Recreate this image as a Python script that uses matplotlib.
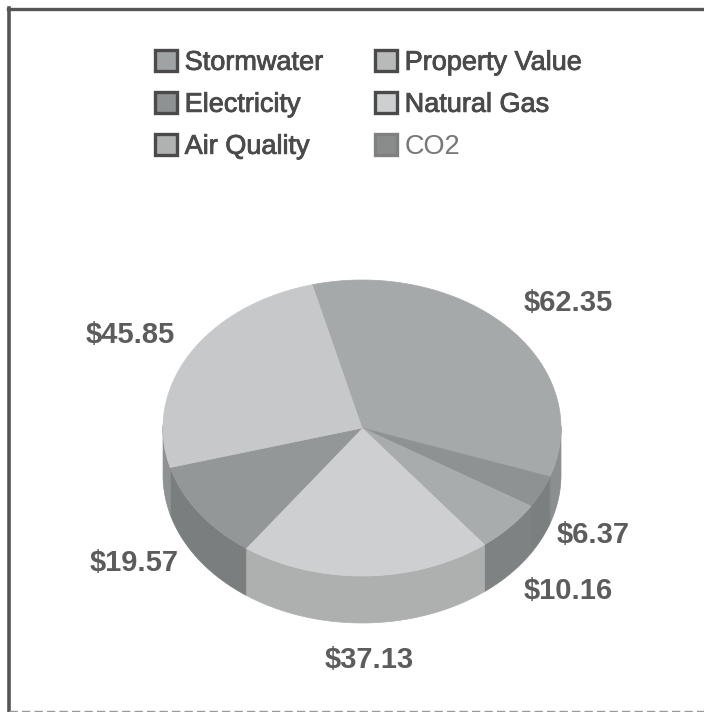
import numpy as np
import matplotlib
matplotlib.use('Agg')
import matplotlib.pyplot as plt
import matplotlib.patheffects as pe
from matplotlib.patches import Patch, Polygon

plt.rcParams['font.family'] = ['Liberation Sans', 'DejaVu Sans']

# значення секторів, за годинниковою стрілкою від верхнього
values = [62.35, 6.37, 10.16, 37.13, 19.57, 45.85]
top_colors = ['#a6a9a9', '#8f9292', '#a9acac', '#cdcfd0', '#949797', '#c6c8c9']
side_colors = ['#8c8f8f', '#7c7f7f', '#7f8282', '#aeb0b0', '#7b7e7e', '#8f9292']
legend_names = ['Stormwater', 'Electricity', 'Air Quality', 'Property Value', 'Natural Gas', 'CO2']
legend_colors = ['#a0a3a3', '#8f9292', '#b0b2b2', '#b8baba', '#cdcfd0', '#8a8c8c']

cx, cy = 362, 428
rx, ry = 199, 148
depth = 47
start = 104.5

fig = plt.figure(figsize=(7.04, 7.12), dpi=100)
ax = fig.add_axes([0, 0, 1, 1])
ax.set_xlim(0, 704)
ax.set_ylim(712, 0)
ax.axis('off')

# рамка: зліва і зверху товста, знизу тонка, справа немає
ax.plot([9, 9], [8, 712], color='#555555', lw=2.6)
ax.plot([8, 704], [8.5, 8.5], color='#555555', lw=2.4)
ax.plot([9, 704], [711, 711], color='#999999', lw=1, ls=(0, (6, 3)))

fractions = np.array(values) / sum(values)
edges = start - 360 * np.concatenate([[0], np.cumsum(fractions)])

# бокова стінка: тільки нижня половина еліпса
for i in range(len(values)):
    t = np.radians(np.linspace(edges[i], edges[i + 1], 200))
    x = cx + rx * np.cos(t)
    y = cy - ry * np.sin(t)
    keep = np.sin(t) < 0.02
    if keep.any():
        xs, ys = x[keep], y[keep]
        pts = np.r_[np.c_[xs, ys], np.c_[xs, ys + depth][::-1]]
        ax.add_patch(Polygon(pts, closed=True, fc=side_colors[i], ec=side_colors[i], lw=0.5, zorder=2))

# верх
for i in range(len(values)):
    t = np.radians(np.linspace(edges[i], edges[i + 1], 200))
    x = cx + rx * np.cos(t)
    y = cy - ry * np.sin(t)
    pts = np.r_[[[cx, cy]], np.c_[x, y]]
    ax.add_patch(Polygon(pts, closed=True, fc=top_colors[i], ec=top_colors[i], lw=0.5, zorder=3))

# підписи
label_pos = [(568, 303), (593, 535), (568, 591), (369, 660), (134, 563), (130, 335)]
for v, (lx, ly) in zip(values, label_pos):
    ax.text(lx, ly, f'${v:.2f}', ha='center', va='center', fontsize=21,
            fontweight='bold', color='#5c5c5c', zorder=4)

handles = [Patch(fc=c, ec='#4a4a4a', lw=2.4) for c in legend_colors]
leg = ax.legend(handles, legend_names, ncols=2, loc='upper left', bbox_to_anchor=(0.22, 0.93),
                frameon=False, fontsize=19.5, labelcolor='#4a4a4a', handlelength=0.8, handleheight=0.8,
                handletextpad=0.3, columnspacing=1.9, labelspacing=0.59, borderpad=0, borderaxespad=0)
for txt in leg.get_texts()[:-1]:
    txt.set_path_effects([pe.withStroke(linewidth=0.6, foreground='#4a4a4a')])
leg.get_texts()[-1].set_color('#777777')
leg.legend_handles[-1].set_edgecolor('#808080')

fig.savefig('out.png', dpi=100)
